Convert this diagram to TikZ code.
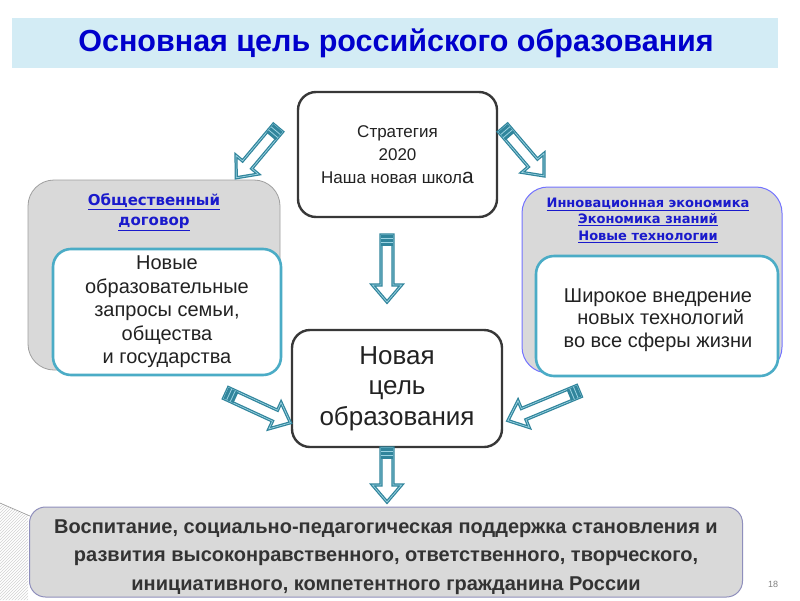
\documentclass[tikz,border=0pt]{standalone}
\usepackage{fontspec}
\setmainfont{Liberation Sans}
\newfontfamily\widefont{DejaVu Sans}
\usetikzlibrary{patterns}
\definecolor{titleblue}{HTML}{0000CC}
\definecolor{bandblue}{HTML}{D3ECF5}
\definecolor{linkblue}{HTML}{1A1ACC}
\definecolor{arrteal}{HTML}{31859C}
\definecolor{arrlight}{HTML}{9CD3E2}
\definecolor{boxteal}{HTML}{4BACC6}
\definecolor{panelgray}{HTML}{D9D9D9}
\definecolor{txtdark}{HTML}{222222}
\tikzset{
  darkbox/.style={draw=black!78, line width=2.4pt, rounded corners=18pt, fill=white, text=txtdark, align=center},
  panel/.style={fill=panelgray, rounded corners=26pt},
  innerbox/.style={draw=boxteal, line width=2.6pt, rounded corners=18pt, fill=white, text=txtdark, align=center},
  linktext/.style={text=linkblue, align=center},
  pics/blockarr/.style={code={
    \path[draw=arrteal, line width=3.2pt, line join=miter, fill=white]
      (0,-6) -- (#1-17,-6) -- (#1-17,-14.5) -- (#1,0) -- (#1-17,14.5) -- (#1-17,6) -- (0,6) -- cycle;
    \path[draw=arrlight, line width=0.7pt, line join=miter]
      (0,-6) -- (#1-17,-6) -- (#1-17,-14.5) -- (#1,0) -- (#1-17,14.5) -- (#1-17,6) -- (0,6) -- cycle;
    \fill[arrteal] (0,-6) rectangle (11,6);
    \draw[arrlight, line width=0.8pt] (3.5,-6) -- (3.5,6) (7.5,-6) -- (7.5,6);
  }}
}
\begin{document}
\begin{tikzpicture}[x=1pt,y=-1pt]
\useasboundingbox (0,0) rectangle (800,600);
\fill[white] (0,0) rectangle (800,600);

% title band
\fill[bandblue] (12,18) rectangle (778,68);
\node[text=titleblue, font=\bfseries\fontsize{30.5}{33}\selectfont] (title) at (396,43) {Основная цель российского образования};

% corner decoration
\fill[pattern=north east lines, pattern color=gray!35] (0,503) -- (28,515) -- (28,600) -- (0,600) -- cycle;
\draw[gray!80, line width=0.6pt] (0,503) -- (30,516);

% side panels
\node[panel, draw=gray!75, line width=0.8pt, minimum width=252, minimum height=190] (lpanel) at (154,275) {};
\node[panel, draw=blue!55!white, line width=1pt, minimum width=260, minimum height=186] (rpanel) at (652,280) {};
\node[linktext, font=\widefont\bfseries\fontsize{15}{20}\selectfont] (ltitle) at (154,212) {\underline{Общественный}\\\underline{договор}};
\node[linktext, font=\widefont\bfseries\fontsize{13}{16.5}\selectfont] (rtitle) at (648,220) {\underline{Инновационная экономика}\\\underline{Экономика знаний}\\\underline{Новые технологии}};

\node[innerbox, minimum width=228, minimum height=126, font=\fontsize{20}{23.5}\selectfont] (linner) at (167,312)
  {Новые\\образовательные\\запросы семьи,\\общества\\и государства};
\node[innerbox, minimum width=242, minimum height=120] (rinner) at (657,316) {};
\node[text=txtdark, align=center, font=\fontsize{20}{22.5}\selectfont] (rtext) at (658,320)
  {Широкое внедрение\\\ новых технологий\\во все сферы жизни};

% central boxes
\node[darkbox, minimum width=199, minimum height=125, font=\fontsize{17}{23}\selectfont] (strat) at (397.5,154.5)
  {Стратегия\\2020\\Наша новая школ{\fontsize{21}{23}\selectfont а}};
\node[darkbox, minimum width=210, minimum height=117, font=\fontsize{26}{30.5}\selectfont] (goal) at (397,388.5)
  {Новая\\цель\\образования};

% bottom box
\node[fill=panelgray, draw=blue!25!gray!70, line width=1pt, rounded corners=16pt, minimum width=713, minimum height=90] (result) at (386,552) {};
\node[align=center, text=black!80, font=\bfseries\fontsize{20}{28.5}\selectfont] (resulttext) at (386,557)
  {Воспитание, социально-педагогическая поддержка становления и\\развития высоконравственного, ответственного, творческого,\\инициативного, компетентного гражданина России};

\node[text=gray, font=\fontsize{9}{10}\selectfont] (pnum) at (773,584) {18};

% block arrows
\coordinate (a1) at (278,128);
\coordinate (a2) at (503,128);
\coordinate (a3) at (387,235);
\coordinate (a4) at (226,393);
\coordinate (a5) at (579,391);
\coordinate (a6) at (387,448);
\pic[rotate=-130] (arr1) at (a1) {blockarr=65};
\pic[rotate=-49.5] (arr2) at (a2) {blockarr=63};
\pic[rotate=-90] (arr3) at (a3) {blockarr=67};
\pic[rotate=-24.8] (arr4) at (a4) {blockarr=71};
\pic[rotate=-157.4] (arr5) at (a5) {blockarr=77};
\pic[rotate=-90] (arr6) at (a6) {blockarr=54};
\end{tikzpicture}
\end{document}
